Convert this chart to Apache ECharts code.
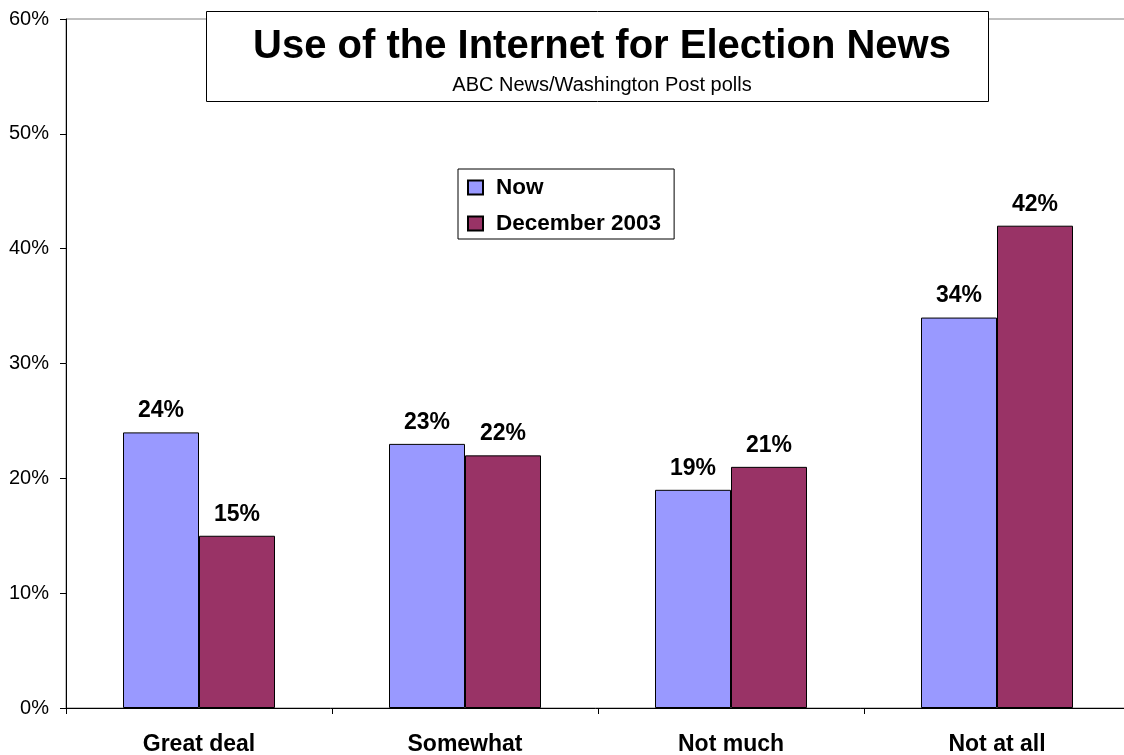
<!DOCTYPE html>
<html>
<head>
<meta charset="utf-8">
<script src="https://cdn.jsdelivr.net/npm/echarts@6/dist/echarts.min.js"></script>
<style>
html,body{margin:0;padding:0;background:#fff;overflow:hidden;}
#c{width:1124px;height:755px;}
</style>
</head>
<body>
<div id="c"></div>
<script>
const categories = ['Great deal', 'Somewhat', 'Not much', 'Not at all'];
const nowValues = [24, 23, 19, 34];
const dec2003Values = [15, 22, 21, 42];
const seriesNames = ['Now', 'December 2003'];
const titleText = 'Use of the Internet for Election News';
const subtitleText = 'ABC News/Washington Post polls';

const FONT = '"Liberation Sans", Arial, sans-serif';
const chart = echarts.init(document.getElementById('c'), null, {renderer: 'canvas'});

const labelStyle = {
  show: true, position: 'top', distance: 10,
  formatter: '{c}%', color: '#000', fontSize: 23, fontWeight: 'bold', fontFamily: FONT
};

chart.setOption({
  animation: false,
  backgroundColor: '#fff',
  textStyle: {fontFamily: FONT},
  grid: {
    left: 66, top: 19, width: 1064, height: 689,
    outerBoundsMode: 'none', containLabel: false,
    show: true, borderColor: '#808080', borderWidth: 1, backgroundColor: 'transparent'
  },
  title: {
    text: titleText,
    subtext: subtitleText,
    left: 597, top: 22, textAlign: 'center',
    itemGap: 8,
    textStyle: {fontSize: 40, fontWeight: 'bold', color: '#000', fontFamily: FONT},
    subtextStyle: {fontSize: 20, color: '#000', fontFamily: FONT},
    z: 10
  },
  graphic: [{
    type: 'rect', z: 5,
    shape: {x: 206.5, y: 11.5, width: 782, height: 90},
    style: {fill: '#fff', stroke: '#000', lineWidth: 1}
  }],
  legend: {
    orient: 'vertical', left: 458, top: 169,
    padding: [7, 13, 4, 9],
    backgroundColor: '#fff', borderColor: '#000', borderWidth: 1,
    itemWidth: 15, itemHeight: 14, itemGap: 13,
    icon: 'rect',
    textStyle: {fontSize: 22.5, fontWeight: 'bold', color: '#000', fontFamily: FONT, padding: [0, 0, 0, 8]},
    data: seriesNames
  },
  xAxis: {
    type: 'category', data: categories,
    axisLine: {lineStyle: {color: '#000', width: 1}},
    axisTick: {show: true, length: 6, inside: false, lineStyle: {color: '#000'}},
    axisLabel: {fontSize: 23, fontWeight: 'bold', color: '#000', margin: 25, fontFamily: FONT},
    splitLine: {show: false}
  },
  yAxis: {
    type: 'value', min: 0, max: 60, interval: 10,
    axisLine: {show: true, lineStyle: {color: '#000', width: 1}},
    axisTick: {show: true, length: 6, lineStyle: {color: '#000'}},
    axisLabel: {formatter: '{value}%', fontSize: 20, color: '#000', margin: 17, fontFamily: FONT},
    splitLine: {show: false}
  },
  series: [
    {
      name: seriesNames[0], type: 'bar', data: nowValues,
      barWidth: 76, barGap: '0%',
      itemStyle: {color: '#9999FF', borderColor: '#000', borderWidth: 1},
      label: labelStyle
    },
    {
      name: seriesNames[1], type: 'bar', data: dec2003Values,
      barWidth: 76, barGap: '0%',
      itemStyle: {color: '#993366', borderColor: '#000', borderWidth: 1},
      label: labelStyle
    }
  ]
});
</script>
</body>
</html>
